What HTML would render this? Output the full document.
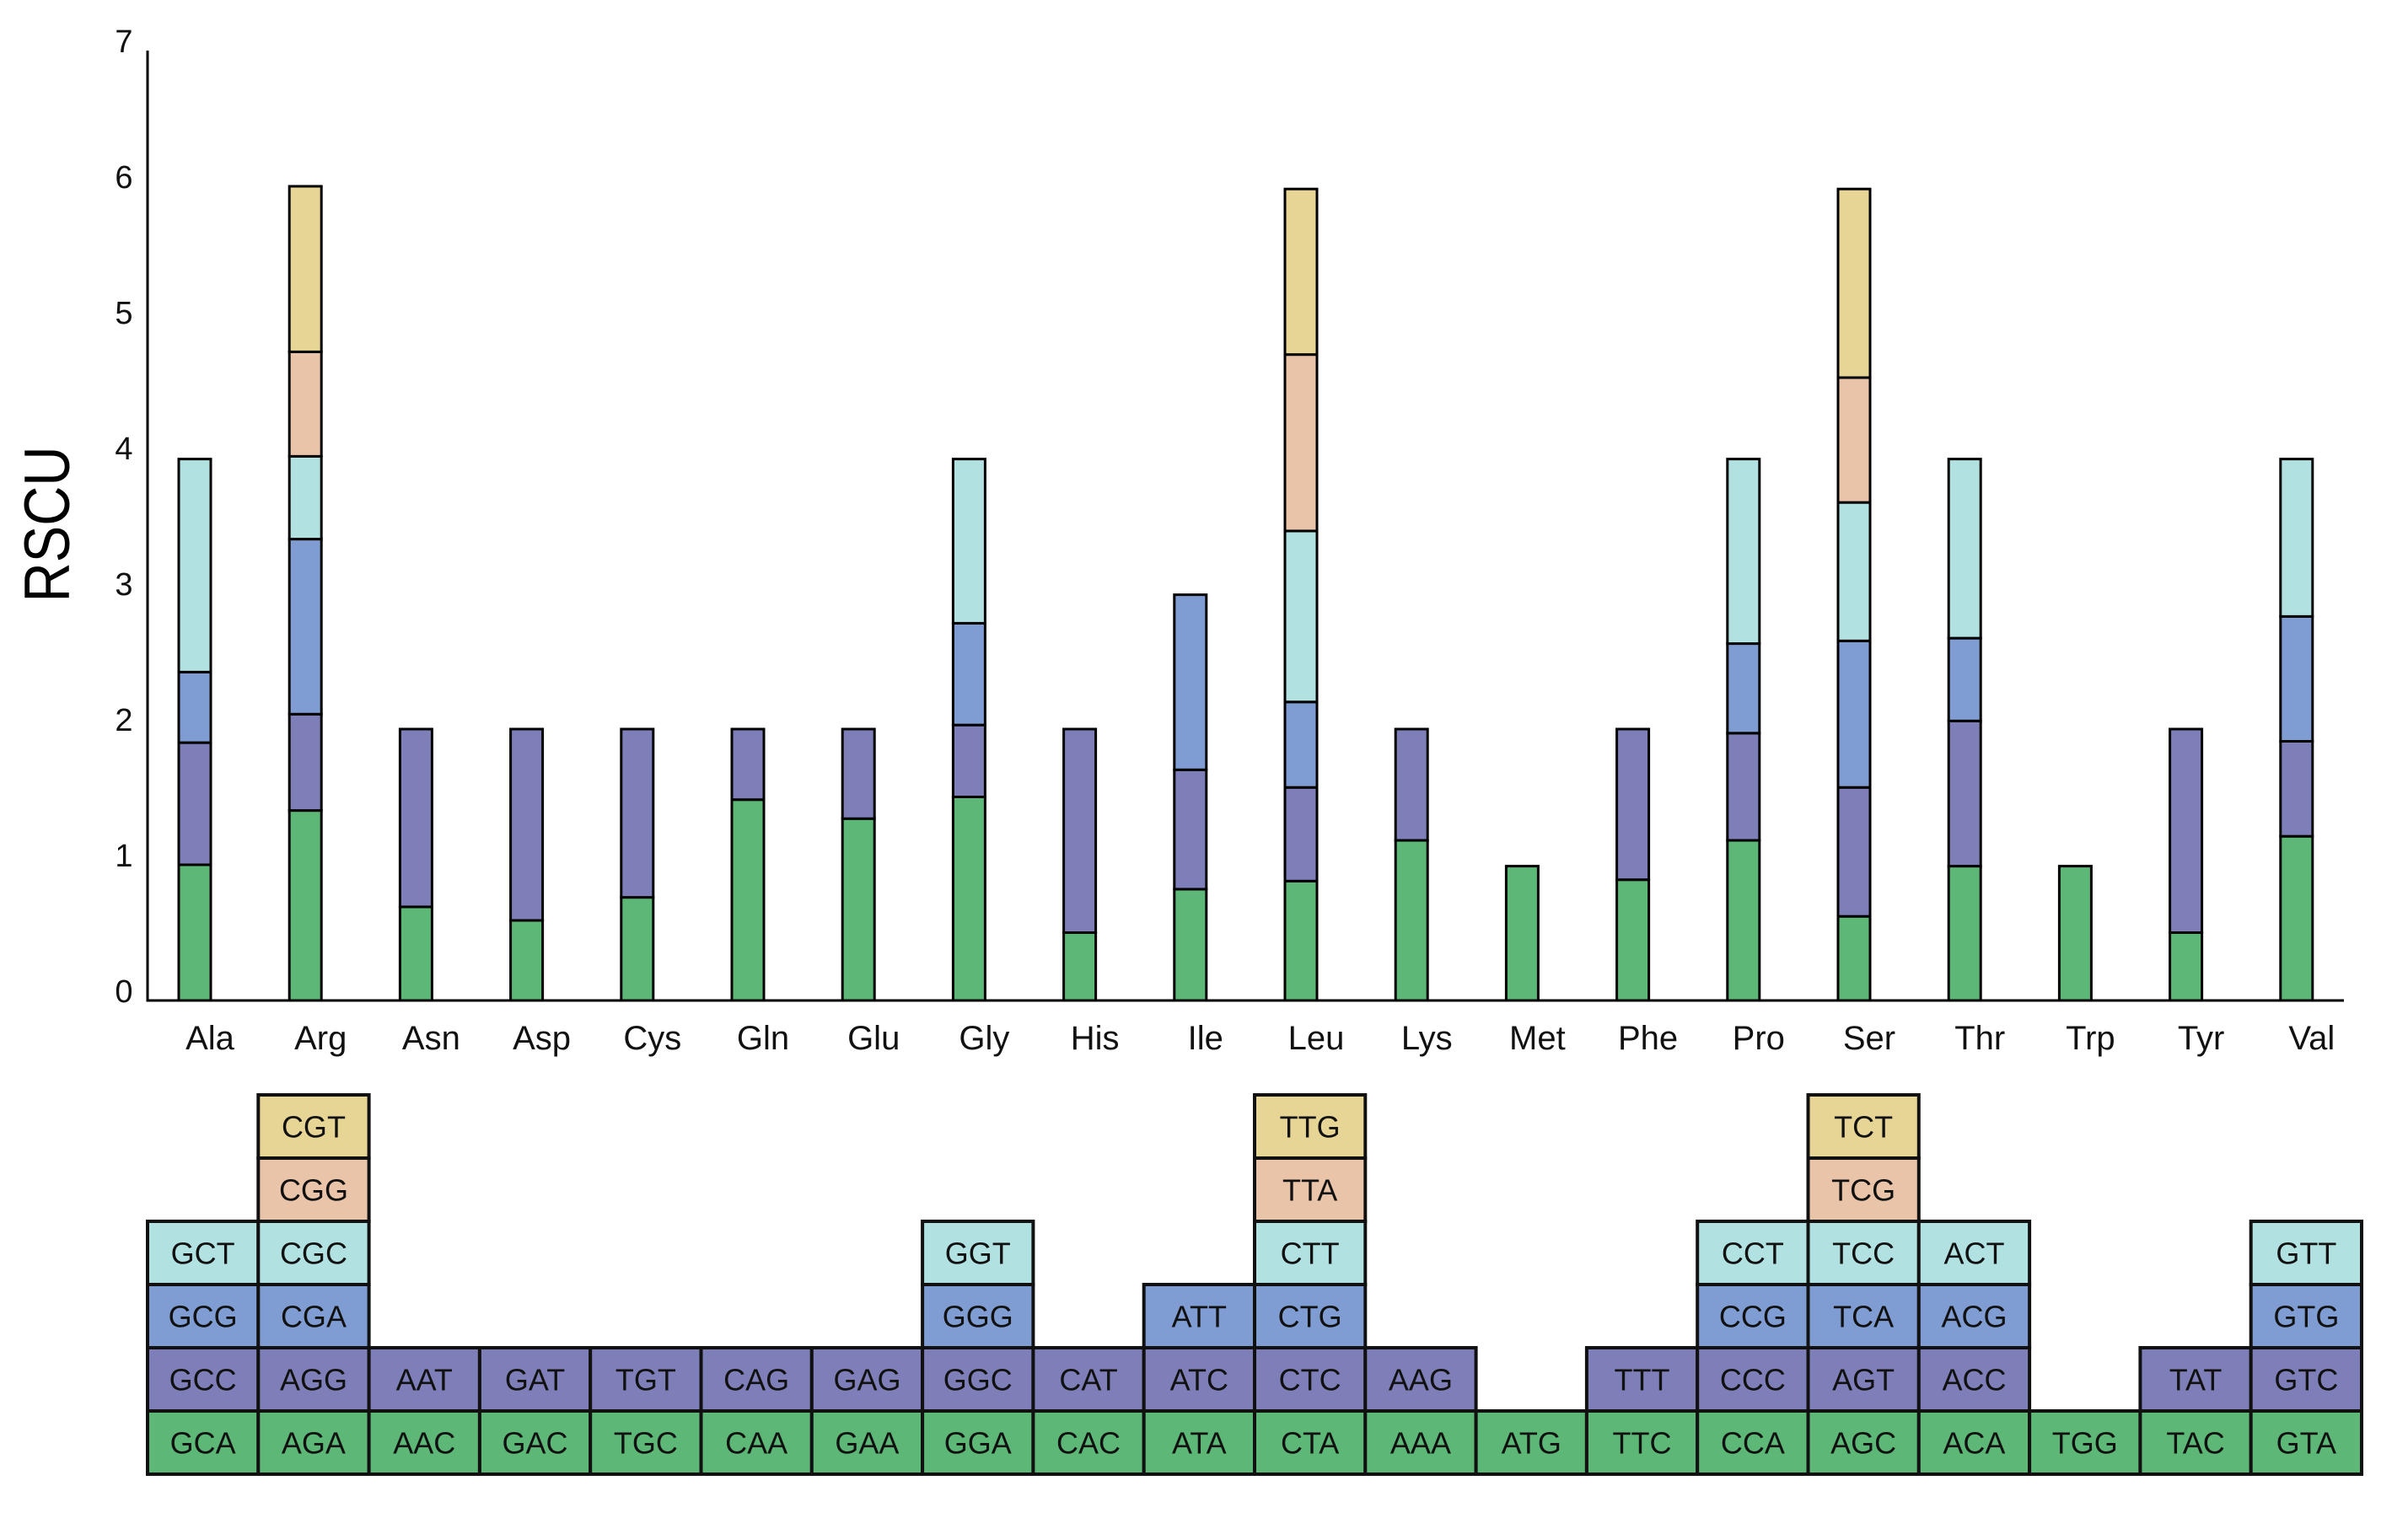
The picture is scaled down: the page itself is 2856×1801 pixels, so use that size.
<!DOCTYPE html>
<html><head><meta charset="utf-8"><style>
html,body{margin:0;padding:0;background:#fff;}
svg{display:block;font-family:"Liberation Sans",sans-serif;}
</style></head><body>
<svg id="chart" width="2856" height="1801" viewBox="0 0 2856 1801" xmlns="http://www.w3.org/2000/svg">
<g id="axes"></g>
<g id="bars"></g>
<g id="table"></g>
</svg>
<script>
const categories = ["Ala","Arg","Asn","Asp","Cys","Gln","Glu","Gly","His","Ile","Leu","Lys","Met","Phe","Pro","Ser","Thr","Trp","Tyr","Val"];
const layer0 = [1.00,1.40,0.69,0.59,0.76,1.48,1.34,1.50,0.50,0.82,0.88,1.18,0.99,0.89,1.18,0.62,0.99,0.99,0.50,1.21];
const layer1 = [0.90,0.71,1.31,1.41,1.24,0.52,0.66,0.53,1.50,0.88,0.69,0.82,0,1.11,0.79,0.95,1.07,0,1.50,0.70];
const layer2 = [0.52,1.29,0,0,0,0,0,0.75,0,1.29,0.63,0,0,0,0.66,1.08,0.61,0,0,0.92];
const layer3 = [1.57,0.61,0,0,0,0,0,1.21,0,0,1.26,0,0,0,1.36,1.02,1.32,0,0,1.16];
const layer4 = [0,0.77,0,0,0,0,0,0,0,0,1.30,0,0,0,0,0.92,0,0,0,0];
const layer5 = [0,1.22,0,0,0,0,0,0,0,0,1.22,0,0,0,0,1.39,0,0,0,0];
const codons0 = ["GCA","AGA","AAC","GAC","TGC","CAA","GAA","GGA","CAC","ATA","CTA","AAA","ATG","TTC","CCA","AGC","ACA","TGG","TAC","GTA"];
const codons1 = ["GCC","AGG","AAT","GAT","TGT","CAG","GAG","GGC","CAT","ATC","CTC","AAG","","TTT","CCC","AGT","ACC","","TAT","GTC"];
const codons2 = ["GCG","CGA","","","","","","GGG","","ATT","CTG","","","","CCG","TCA","ACG","","","GTG"];
const codons3 = ["GCT","CGC","","","","","","GGT","","","CTT","","","","CCT","TCC","ACT","","","GTT"];
const codons4 = ["","CGG","","","","","","","","","TTA","","","","","TCG","","","",""];
const codons5 = ["","CGT","","","","","","","","","TTG","","","","","TCT","","","",""];
const yTicks = ["0","1","2","3","4","5","6","7"];

const layers=[layer0,layer1,layer2,layer3,layer4,layer5];
const codonRows=[codons0,codons1,codons2,codons3,codons4,codons5];
const colors=["#5db877","#7e7fb8","#7f9dd2","#b2e1e2","#eac4a9","#e7d595"];
const NS="http://www.w3.org/2000/svg";
const y0=1187, unit=161, x0=175;
function yS(v){return y0-v*unit;}
function xS(i){return 231+i*131.2;}
function mk(tag,attrs,parent){const e=document.createElementNS(NS,tag);for(const k in attrs)e.setAttribute(k,attrs[k]);parent.appendChild(e);return e;}
const axes=document.getElementById('axes'),bars=document.getElementById('bars'),table=document.getElementById('table');

let l=mk('line',{x1:x0,y1:yS(7),x2:x0,y2:y0+1.5,stroke:'#000','stroke-width':3},axes);


l=mk('line',{x1:x0-1.5,y1:y0,x2:2780,y2:y0,stroke:'#000','stroke-width':3},axes);


yTicks.forEach((t,i)=>{
  const e=mk('text',{x:147,y:yS(+t)+2,'font-size':38,'text-anchor':'middle',fill:'#111'},axes);
  e.textContent=t;
  
  
});
let yt=mk('text',{x:0,y:0,'font-size':76,'text-anchor':'middle',transform:'translate(82,622) rotate(-90)',fill:'#000',textLength:185,lengthAdjust:'spacingAndGlyphs'},axes);
yt.textContent='RSCU';



categories.forEach((c,i)=>{
  const cx=xS(i);
  let cum=0;
  layers.forEach((arr,k)=>{
    const v=arr[i]; if(!v) return;
    const r=mk('rect',{x:cx-19,y:yS(cum+v),width:38,height:v*unit,fill:colors[k],stroke:'#000','stroke-width':3},bars);
    
    
    cum+=v;
  });
  const t=mk('text',{x:cx+18,y:1245,'font-size':40,'text-anchor':'middle',fill:'#111'},bars);
  t.textContent=c;
  
  
});

const cw=131.3, rh=75, tb=1749;
codonRows.forEach((row,k)=>{
  row.forEach((cod,i)=>{
    if(!cod) return;
    const x=175+i*cw, y=tb-(k+1)*rh;
    const r=mk('rect',{x:x,y:y,width:cw,height:rh,fill:colors[k],stroke:'#111','stroke-width':4},table);
    
    
    const t=mk('text',{x:x+cw/2,y:y+rh/2+13,'font-size':36,'text-anchor':'middle',fill:'#111'},table);
    t.textContent=cod;
    
    
  });
});
</script>
</body></html>
